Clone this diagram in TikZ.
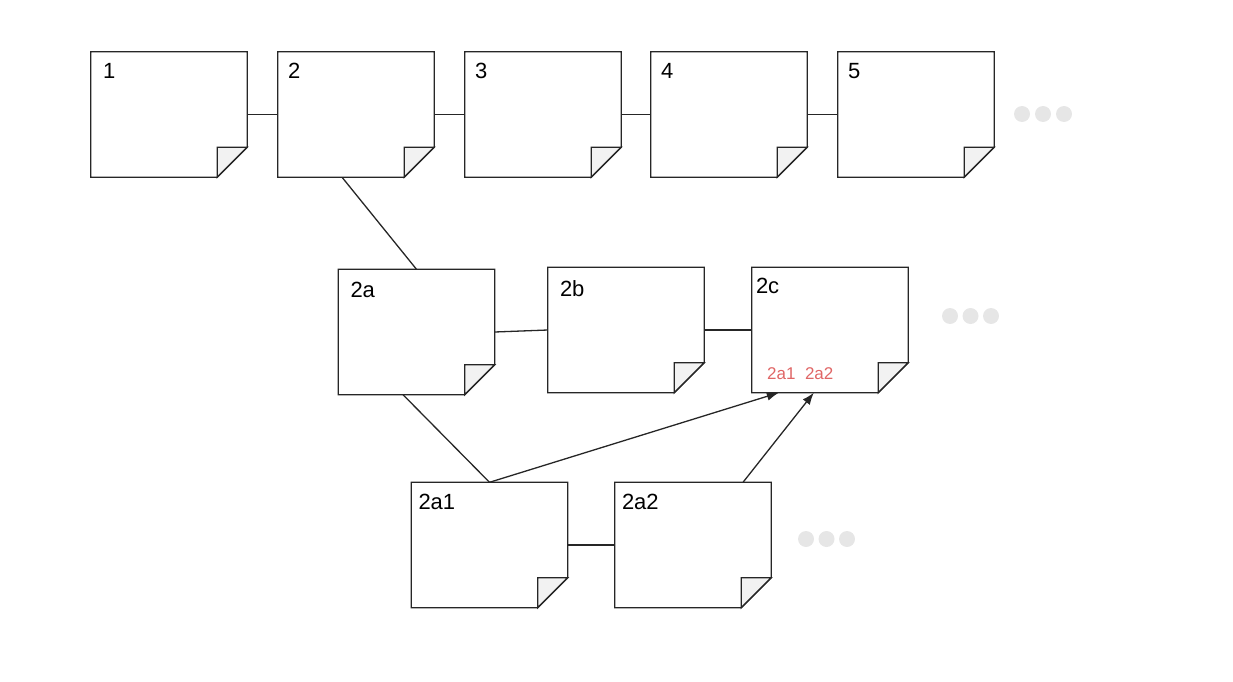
\documentclass[tikz,border=0pt]{standalone}
\usepackage{fontspec}
\setmainfont{Liberation Sans}
\usetikzlibrary{positioning,arrows.meta,calc}

\begin{document}
\begin{tikzpicture}[x=1pt,y=-1pt,font=\fontsize{22}{26}\selectfont,
  note/.style={minimum width=156pt,minimum height=125pt,inner sep=0pt},
  lbl/.style={anchor=north west,inner sep=0pt},
  conn/.style={line width=1.3pt,draw=black!85},
  arr/.style={-{Latex[length=12pt,width=9pt]},line width=1.3pt,draw=black!85},
  dot/.style={fill=dotgray}]
\definecolor{foldgray}{HTML}{F2F2F2}
\definecolor{dotgray}{HTML}{E6E6E6}
\definecolor{refred}{HTML}{E06666}
\useasboundingbox (0,0) rectangle (1233,682);
% top row
\node[note] (n1) at (169,114.5) {};
\node[note] (n2) at (356,114.5) {};
\node[note] (n3) at (543,114.5) {};
\node[note] (n4) at (729,114.5) {};
\node[note] (n5) at (916,114.5) {};
% second level
\node[note] (n2a) at (416.5,332) {};
\node[note] (n2b) at (626,330) {};
\node[note] (n2c) at (830,330) {};
% third level
\node[note] (n2a1) at (489.5,545) {};
\node[note] (n2a2) at (693,545) {};
% links
\draw[conn] (n1.east)--(n2.west);
\draw[conn] (n2.east)--(n3.west);
\draw[conn] (n3.east)--(n4.west);
\draw[conn] (n4.east)--(n5.west);
\draw[conn] ([xshift=-14pt]n2.south)--(n2a.north);
\draw[conn] (n2a.east)--(n2b.west);
\draw[conn] (n2b.east)--(n2c.west);
\draw[conn] ([xshift=-13.5pt]n2a.south)--(n2a1.north);
\draw[conn] (n2a1.east)--(n2a2.west);
\draw[arr] (n2a1.north)--([xshift=27pt]n2c.south west);
\draw[arr] ([xshift=50pt]n2a2.north)--([xshift=62pt]n2c.south west);
% sheets with folded corner
\foreach \n in {n1,n2,n3,n4,n5,n2a,n2b,n2c,n2a1,n2a2}{
  \draw[conn,fill=white] (\n.north west)--(\n.north east)--([yshift=30pt]\n.south east)
    --([xshift=-30pt]\n.south east)--(\n.south west)--cycle;
  \draw[conn,fill=foldgray] ([xshift=-30pt]\n.south east)--([xshift=-30pt,yshift=30pt]\n.south east)
    --([yshift=30pt]\n.south east)--cycle;
}
\node[lbl] (t1) at ([shift={(12,11)}]n1.north west) {1};
\node[lbl] (t2) at ([shift={(10,11)}]n2.north west) {2};
\node[lbl] (t3) at ([shift={(10,11)}]n3.north west) {3};
\node[lbl] (t4) at ([shift={(10,11)}]n4.north west) {4};
\node[lbl] (t5) at ([shift={(10,11)}]n5.north west) {5};
\node[lbl] (t2a) at ([shift={(12,13)}]n2a.north west) {2a};
\node[lbl] (t2b) at ([shift={(12,13)}]n2b.north west) {2b};
\node[lbl] (t2c) at ([shift={(4,11)}]n2c.north west) {2c};
\node[lbl] (t2a1) at ([shift={(7,12)}]n2a1.north west) {2a1};
\node[lbl] (t2a2) at ([shift={(7,12)}]n2a2.north west) {2a2};
\node[lbl,text=refred,font=\fontsize{17}{20}\selectfont] (refs) at (767,367) {2a1\ \ 2a2};
% more items
\foreach \x in {1022,1043,1064} \fill[dot] (\x,114) circle (8);
\foreach \x in {950,970.5,991} \fill[dot] (\x,316) circle (8);
\foreach \x in {806,826.5,847} \fill[dot] (\x,539) circle (8);
\end{tikzpicture}
\end{document}
